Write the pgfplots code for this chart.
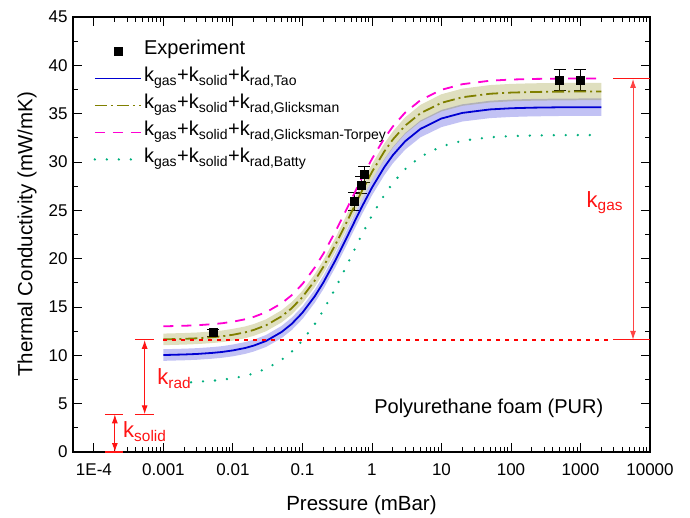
\documentclass[border=0pt]{standalone}
\usepackage{pgfplots}
\pgfplotsset{compat=1.18}
\usepackage{fontspec}
\setmainfont{Liberation Sans}
\usetikzlibrary{arrows.meta}
\definecolor{ctao}{RGB}{0,0,210}
\definecolor{cgl}{RGB}{128,128,0}
\definecolor{ctor}{RGB}{255,0,210}
\definecolor{cbat}{RGB}{0,175,125}
\definecolor{kred}{RGB}{255,20,20}
\begin{document}
\begin{tikzpicture}
\begin{axis}[
  scale only axis,
  width=577pt, height=435pt,
  xmode=log,
  xmin=5e-5, xmax=1e4,
  ymin=0, ymax=45,
  xtick={1e-4,1e-3,1e-2,1e-1,1,10,100,1000,10000},
  xticklabels={1E-4,0.001,0.01,0.1,1,10,100,1000,10000},
  ytick={0,5,...,45},
  minor y tick num=1,
  tick align=inside,
  major tick length=9pt, minor tick length=5pt,
  axis line style={line width=1.1pt},
  every tick/.style={black, line width=0.9pt},
  /pgf/number format/assume math mode=true,
  ticklabel style={font=\fontsize{17}{17}\selectfont},
  xticklabel style={yshift=-8pt},
  yticklabel style={xshift=-2pt},
  xlabel={Pressure (mBar)},
  ylabel={Thermal Conductivity (mW/mK)},
  every axis x label/.style={at={(axis description cs:0.5,0)}, anchor=center, yshift=-53pt, font=\fontsize{20.5}{20.5}\selectfont},
  every axis y label/.style={at={(axis description cs:-0.0797,0.5)}, rotate=90, anchor=center, font=\fontsize{20.5}{20.5}\selectfont},
  legend style={at={(0.03,0.957)}, anchor=north west, draw=none, fill=none,
    font=\fontsize{20}{24}\selectfont,
    nodes={text height=15pt, text depth=8pt}},
  legend cell align=left,
  legend image code/.code={\draw[mark repeat=2,mark phase=2,#1] plot coordinates {(0pt,0pt)(23pt,0pt)(46pt,0pt)};},
]
% experiment
\addplot[only marks, mark=square*, mark size=4pt, black,
  error bars/.cd, y dir=both, y explicit,
  error bar style={black, line width=1pt},
  error mark options={rotate=90, mark size=6pt, line width=1pt}]
  coordinates {
  (0.0052,12.35) +- (0,0.35)
  (0.56,25.9) +- (0,0.9)
  (0.70,27.6) +- (0,0.9)
  (0.78,28.7) +- (0,0.8)
  (500,38.5) +- (0,1.1)
  (1000,38.5) +- (0,1.1)
  };
\addlegendentry{Experiment}
% bands
\addplot[forget plot, draw=none, fill=ctao, fill opacity=0.24] coordinates {
 (0.001,10.63)(0.002,10.69)(0.003,10.74)(0.005,10.85)(0.007,10.95)(0.01,11.12)(0.015,11.37)(0.02,11.62)(0.03,12.11)(0.05,13.04)(0.07,13.89)(0.1,15.06)(0.15,16.77)(0.2,18.23)(0.3,20.59)(0.4,22.40)(0.5,23.84)(0.7,26.01)(1,28.15)(1.5,30.28)(2,31.55)(3,33.00)(5,34.30)(10,35.39)(20,35.97)(50,36.34)(100,36.46)(200,36.52)(500,36.56)(1000,36.57)(2000,36.57)
 (2000,34.77)(1000,34.77)(500,34.76)(200,34.72)(100,34.66)(50,34.54)(20,34.19)(10,33.61)(5,32.56)(3,31.28)(2,29.87)(1.5,28.62)(1,26.55)(0.7,24.45)(0.5,22.34)(0.4,20.92)(0.3,19.15)(0.2,16.85)(0.15,15.43)(0.1,13.76)(0.07,12.61)(0.05,11.78)(0.03,10.87)(0.02,10.40)(0.015,10.15)(0.01,9.90)(0.007,9.75)(0.005,9.65)(0.003,9.54)(0.002,9.49)(0.001,9.43)
};
\addplot[forget plot, draw=none, fill=cgl, fill opacity=0.25] coordinates {
 (0.001,12.25)(0.002,12.31)(0.003,12.36)(0.005,12.47)(0.007,12.57)(0.01,12.74)(0.015,12.99)(0.02,13.24)(0.03,13.73)(0.05,14.66)(0.07,15.51)(0.1,16.68)(0.15,18.39)(0.2,19.85)(0.3,22.21)(0.4,24.02)(0.5,25.46)(0.7,27.63)(1,29.77)(1.5,31.90)(2,33.17)(3,34.62)(5,35.92)(10,37.01)(20,37.59)(50,37.96)(100,38.08)(200,38.14)(500,38.18)(1000,38.19)(2000,38.19)
 (2000,36.39)(1000,36.39)(500,36.38)(200,36.34)(100,36.28)(50,36.16)(20,35.81)(10,35.23)(5,34.18)(3,32.90)(2,31.49)(1.5,30.24)(1,28.17)(0.7,26.07)(0.5,23.96)(0.4,22.54)(0.3,20.77)(0.2,18.47)(0.15,17.05)(0.1,15.38)(0.07,14.23)(0.05,13.40)(0.03,12.49)(0.02,12.02)(0.015,11.77)(0.01,11.52)(0.007,11.37)(0.005,11.27)(0.003,11.16)(0.002,11.11)(0.001,11.05)
};
% Tao
\addplot[ctao, line width=1.8pt, no marks] coordinates {
 (0.001,10.03)(0.002,10.09)(0.003,10.14)(0.005,10.25)(0.007,10.35)(0.01,10.51)(0.015,10.76)(0.02,11.01)(0.03,11.49)(0.05,12.41)(0.07,13.25)(0.1,14.41)(0.15,16.10)(0.2,17.54)(0.3,19.87)(0.4,21.66)(0.5,23.09)(0.7,25.23)(1,27.35)(1.5,29.45)(2,30.71)(3,32.14)(5,33.43)(10,34.50)(20,35.08)(50,35.44)(100,35.56)(200,35.62)(500,35.66)(1000,35.67)(2000,35.67)
};
\addlegendentry{k\textsubscript{gas}+k\textsubscript{solid}+k\textsubscript{rad,Tao}}
% Glicksman
\addplot[cgl, line width=1.8pt, no marks, dash pattern=on 12pt off 4pt on 2pt off 4pt] coordinates {
 (0.001,11.65)(0.002,11.71)(0.003,11.76)(0.005,11.87)(0.007,11.97)(0.01,12.13)(0.015,12.38)(0.02,12.63)(0.03,13.11)(0.05,14.03)(0.07,14.87)(0.1,16.03)(0.15,17.72)(0.2,19.16)(0.3,21.49)(0.4,23.28)(0.5,24.71)(0.7,26.85)(1,28.97)(1.5,31.07)(2,32.33)(3,33.76)(5,35.05)(10,36.12)(20,36.70)(50,37.06)(100,37.18)(200,37.24)(500,37.28)(1000,37.29)(2000,37.29)
};
\addlegendentry{k\textsubscript{gas}+k\textsubscript{solid}+k\textsubscript{rad,Glicksman}}
% Torpey
\addplot[ctor, line width=1.8pt, no marks, dash pattern=on 10pt off 8pt] coordinates {
 (0.001,13.00)(0.002,13.06)(0.003,13.11)(0.005,13.22)(0.007,13.32)(0.01,13.48)(0.015,13.73)(0.02,13.98)(0.03,14.46)(0.05,15.38)(0.07,16.22)(0.1,17.38)(0.15,19.07)(0.2,20.51)(0.3,22.84)(0.4,24.63)(0.5,26.06)(0.7,28.20)(1,30.32)(1.5,32.42)(2,33.68)(3,35.11)(5,36.40)(10,37.47)(20,38.05)(50,38.41)(100,38.53)(200,38.59)(500,38.63)(1000,38.64)(2000,38.64)
};
\addlegendentry{k\textsubscript{gas}+k\textsubscript{solid}+k\textsubscript{rad,Glicksman-Torpey}}
% Batty
\addplot[cbat, line width=2.6pt, no marks, line cap=round, dash pattern=on 0pt off 12pt] coordinates {
 (0.0025,7.21)(0.003,7.26)(0.005,7.37)(0.007,7.47)(0.01,7.63)(0.015,7.88)(0.02,8.13)(0.03,8.61)(0.05,9.53)(0.07,10.37)(0.1,11.53)(0.15,13.22)(0.2,14.66)(0.3,16.99)(0.4,18.78)(0.5,20.21)(0.7,22.35)(1,24.47)(1.5,26.57)(2,27.83)(3,29.26)(5,30.55)(10,31.62)(20,32.20)(50,32.56)(100,32.68)(200,32.74)(500,32.78)(1000,32.79)(2000,32.79)
};
\addlegendentry{k\textsubscript{gas}+k\textsubscript{solid}+k\textsubscript{rad,Batty}}
% red annotations
\draw[color=red, line width=1.5pt, dash pattern=on 3.5pt off 5.5pt] (axis cs:0.001,11.6) -- (axis cs:2950,11.6);
\draw[kred, line width=1.2pt] (axis cs:2950,11.6) -- (axis cs:10000,11.6);
\draw[kred, line width=1.2pt] (axis cs:2950,38.6) -- (axis cs:10000,38.6);
\draw[kred!80, line width=1pt, {Latex[length=9pt,width=6pt]}-{Latex[length=9pt,width=6pt]}] (axis cs:5700,38.6) -- (axis cs:5700,11.6);
\node[kred, anchor=east, font=\fontsize{22}{22}\selectfont] at (axis cs:4600,25.8) {k\textsubscript{gas}};
\draw[kred, line width=1.2pt] (axis cs:3.87e-4,11.6) -- (axis cs:7.24e-4,11.6);
\draw[kred, line width=1.2pt] (axis cs:3.87e-4,3.9) -- (axis cs:7.24e-4,3.9);
\draw[kred, line width=1pt, {Latex[length=9pt,width=6pt]}-{Latex[length=9pt,width=6pt]}] (axis cs:5.37e-4,11.6) -- (axis cs:5.37e-4,3.9);
\node[kred, anchor=west, font=\fontsize{22}{22}\selectfont] at (axis cs:7.3e-4,7.6) {k\textsubscript{rad}};
\draw[kred, line width=1.2pt] (axis cs:1.44e-4,3.9) -- (axis cs:2.6e-4,3.9);
\draw[kred, line width=1.6pt] (axis cs:1.44e-4,0) -- (axis cs:2.6e-4,0);
\draw[kred, line width=1pt, {Latex[length=9pt,width=6pt]}-{Latex[length=9pt,width=6pt]}] (axis cs:2.0e-4,3.9) -- (axis cs:2.0e-4,0);
\node[kred, anchor=west, font=\fontsize{22}{22}\selectfont] at (axis cs:2.35e-4,2.1) {k\textsubscript{solid}};
\node[font=\fontsize{20}{20}\selectfont] at (axis cs:48,4.55) {Polyurethane foam (PUR)};
\end{axis}
\pgfresetboundingbox
\path ([shift={(-73pt,-65pt)}]current axis.south west) rectangle ([shift={(40pt,17pt)}]current axis.north east);
\end{tikzpicture}
\end{document}
